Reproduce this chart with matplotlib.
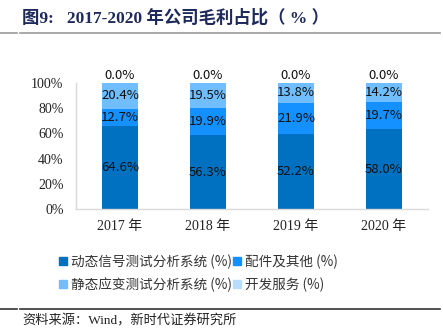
import matplotlib
matplotlib.use('Agg')
import matplotlib.pyplot as plt
from matplotlib.lines import Line2D
from matplotlib.patches import Patch
from matplotlib.ticker import FuncFormatter
import numpy as np

# --- data ---
years = ['2017 年', '2018 年', '2019 年', '2020 年']
dynamic = [64.6, 56.3, 52.2, 58.0]      # 动态信号测试分析系统
parts = [12.7, 19.9, 21.9, 19.7]        # 配件及其他
static = [20.4, 19.5, 13.8, 14.2]       # 静态应变测试分析系统
service = [0.0, 0.0, 0.0, 0.0]          # 开发服务

series_names = ['动态信号测试分析系统 (%)', '配件及其他 (%)', '静态应变测试分析系统 (%)', '开发服务 (%)']
colors = ['#0070C0', '#1590FF', '#70BEFF', '#B8DDFF']

SERIF = ['Liberation Serif', 'Noto Sans CJK SC']
CJK = ['Noto Sans CJK SC', 'DejaVu Sans']

W, H = 443, 329
fig = plt.figure(figsize=(W / 100, H / 100), dpi=100)

# plot area in pixel coords
left, right, top, bottom = 76, 428, 82.7, 209.3
ax = fig.add_axes([left / W, 1 - bottom / H, (right - left) / W, (bottom - top) / H])

data = np.array([dynamic, parts, static, service])
shares = data / data.sum(axis=0) * 100  # the chart stacks to 100%
x = np.arange(len(years))
base = np.zeros(len(years))
for i in range(len(series_names)):
    ax.bar(x, shares[i], 0.4, bottom=base, color=colors[i], linewidth=0)
    for j in range(len(years)):
        txt = f'{data[i, j]:.1f}%'
        if shares[i, j] > 0:
            ax.text(x[j], base[j] + shares[i, j] / 2, txt, ha='center', va='center',
                    fontsize=9.5, family=CJK, color='#111111')
        else:
            ax.annotate(txt, (x[j], base[j]), xytext=(0, 0.5), textcoords='offset points',
                        ha='center', va='bottom', fontsize=9.5, family=CJK, color='#111111')
    base += shares[i]

ax.set_xlim(-0.5, len(years) - 0.5)
ax.set_ylim(0, 100)
ax.set_yticks(range(0, 101, 20))
ax.yaxis.set_major_formatter(FuncFormatter(lambda v, p: f'{v:.0f}%'))
ax.set_xticks(x)
ax.set_xticklabels(years)
for lab in ax.get_xticklabels() + ax.get_yticklabels():
    lab.set_family(SERIF)
    lab.set_fontsize(10)
    lab.set_color('#222222')
ax.tick_params(axis='x', length=0, pad=8)
ax.tick_params(axis='y', length=0, pad=9)
for s in ['top', 'right']:
    ax.spines[s].set_visible(False)
for s in ['left', 'bottom']:
    ax.spines[s].set_color('#d9d9d9')
    ax.spines[s].set_linewidth(1)

# legend: two rows, two columns
handles = [Patch(color=c) for c in colors]
order = [0, 2, 1, 3]
leg = fig.legend([handles[k] for k in order], [series_names[k] for k in order],
                 ncol=2, loc='upper left', bbox_to_anchor=(54 / W, 1 - 249 / H),
                 frameon=False, handlelength=0.55, handleheight=0.55, handletextpad=0.3,
                 columnspacing=0.1, labelspacing=0.6, borderaxespad=0,
                 prop={'family': CJK, 'size': 9.8})
for t in leg.get_texts():
    t.set_color('#333333')

# title and rules
fig.text(22 / W, 1 - 18 / H, '图9:   2017-2020 年公司毛利占比（ % ）', ha='left', va='center',
         fontsize=12.5, fontweight='bold', family=['Liberation Serif', 'Noto Sans CJK SC'],
         color='#1F2A5C')
for y, c in [(33, '#999999'), (309, '#333333')]:
    fig.add_artist(Line2D([0, 17 / W], [1 - y / H] * 2, color=c, lw=1.2))
    fig.add_artist(Line2D([20 / W, 440 / W], [1 - y / H] * 2, color=c, lw=1.2))

fig.text(22 / W, 1 - 321 / H, '资料来源：Wind，新时代证券研究所', ha='left', va='center',
         fontsize=9.5, family=SERIF, color='#222222')

fig.savefig('out.png', dpi=100)
